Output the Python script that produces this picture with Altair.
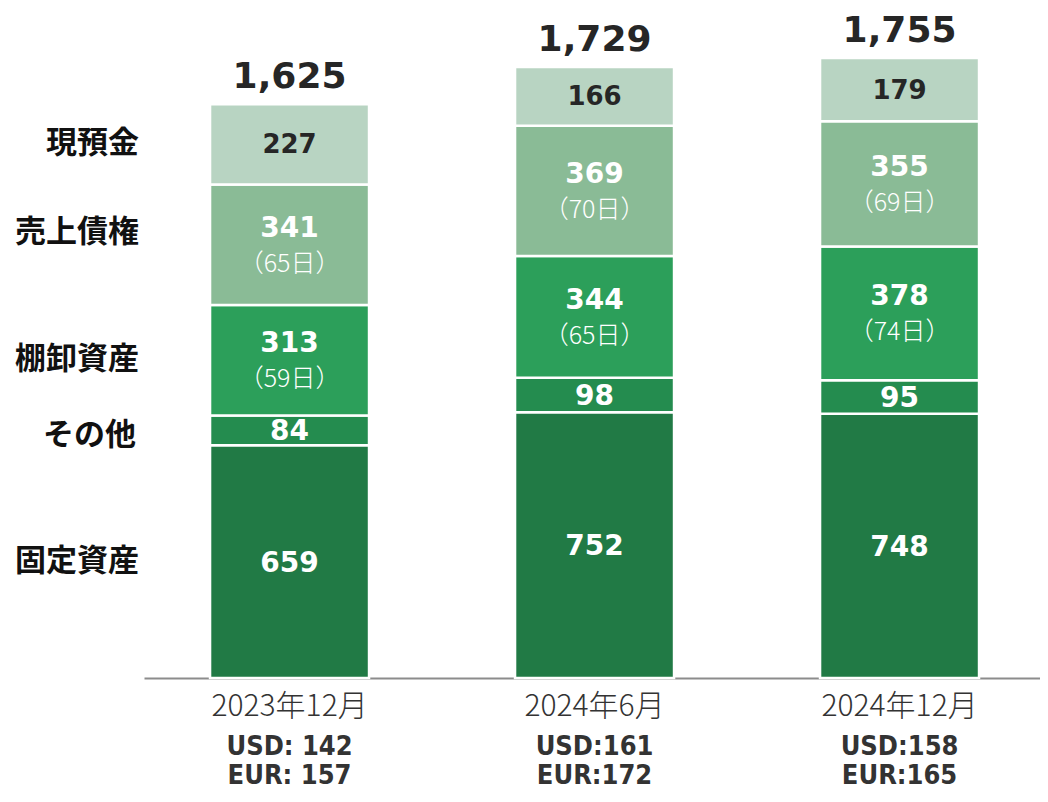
import altair as alt
import pandas as pd

periods = ["2023年12月", "2024年6月", "2024年12月"]
categories = ["固定資産", "その他", "棚卸資産", "売上債権", "現預金"]  # bottom -> top
fixed_assets = [659, 752, 748]
other = [84, 98, 95]
inventory = [313, 344, 378]
receivables = [341, 369, 355]
cash = [227, 166, 179]
totals = [1625, 1729, 1755]
days_receivables = ["（65日）", "（70日）", "（69日）"]
days_inventory = ["（59日）", "（65日）", "（74日）"]
usd_rates = ["USD: 142", "USD:161", "USD:158"]
eur_rates = ["EUR: 157", "EUR:172", "EUR:165"]

colors = ["#217a45", "#248c4f", "#2c9f5a", "#8abb96", "#b8d4c2"]

series = [fixed_assets, other, inventory, receivables, cash]
rows = []
for i, p in enumerate(periods):
    base = 0
    for c, vals in zip(categories, series):
        v = vals[i]
        day = ""
        if c == "売上債権":
            day = days_receivables[i]
        elif c == "棚卸資産":
            day = days_inventory[i]
        rows.append({"period": p, "cat": c, "value": v, "y0": base, "y1": base + v,
                     "mid": base + v / 2, "day": day, "hasday": day != ""})
        base += v
df = pd.DataFrame(rows)
tot_df = pd.DataFrame({"period": periods, "total": totals,
                       "total_label": [f"{t:,}" for t in totals],
                       "usd": usd_rates, "eur": eur_rates})

NUMFONT = "DejaVu Sans"
JPFONT = "Noto Sans CJK JP"
CONDFONT = "DejaVu Sans Condensed"

x_enc = alt.X("period:N", sort=periods,
              scale=alt.Scale(paddingInner=0.4787, paddingOuter=0.2082, align=0.52),
              axis=alt.Axis(title=None, labelAngle=0, ticks=False, domainColor="#8c8c8c",
                            domainWidth=2, labelFont=JPFONT, labelFontSize=30,
                            labelFontWeight=300, labelColor="#333333", labelPadding=13,
                            grid=False))
x_plain = alt.X("period:N", sort=periods)
y_scale = alt.Scale(domain=[0, 1800])

base = alt.Chart(df)

bars = base.mark_bar(stroke="white", strokeWidth=2.5).encode(
    x=x_enc,
    y=alt.Y("y0:Q", scale=y_scale, axis=None),
    y2="y1:Q",
    color=alt.Color("cat:N", scale=alt.Scale(domain=categories, range=colors), legend=None),
)

cash_txt = base.transform_filter(alt.datum.cat == "現預金").mark_text(
    font=NUMFONT, fontWeight="bold", fontSize=26, color="#262626", dy=1
).encode(x=x_plain, y=alt.Y("mid:Q", scale=y_scale), text="value:Q")

plain_txt = base.transform_filter(
    "datum.cat == '固定資産' || datum.cat == 'その他'"
).mark_text(font=NUMFONT, fontWeight="bold", fontSize=28, color="white", dy=2).encode(
    x=x_plain, y=alt.Y("mid:Q", scale=y_scale), text="value:Q")

day_val_txt = base.transform_filter(alt.datum.hasday).mark_text(
    font=NUMFONT, fontWeight="bold", fontSize=28, color="white", dy=-16
).encode(x=x_plain, y=alt.Y("mid:Q", scale=y_scale), text="value:Q")

day_txt = base.transform_filter(alt.datum.hasday).mark_text(
    font=JPFONT, fontWeight=300, fontSize=25, color="white", dy=19
).encode(x=x_plain, y=alt.Y("mid:Q", scale=y_scale), text="day:N")

first = base.transform_filter(alt.datum.period == periods[0])
cat_common = dict(font=JPFONT, fontWeight="bold", fontSize=31, color="#111111", align="right")
cat_txt = first.transform_filter(
    "datum.cat != '売上債権' && datum.cat != 'その他'"
).mark_text(**cat_common).encode(x=alt.value(-5), y=alt.Y("mid:Q", scale=y_scale), text="cat:N")
cat_txt_up = first.transform_filter(alt.datum.cat == "売上債権").mark_text(
    dy=-12, **cat_common).encode(x=alt.value(-5), y=alt.Y("mid:Q", scale=y_scale), text="cat:N")
cat_txt_down = first.transform_filter(alt.datum.cat == "その他").mark_text(
    dy=6, **cat_common).encode(x=alt.value(-8), y=alt.Y("mid:Q", scale=y_scale), text="cat:N")

tot = alt.Chart(tot_df)
total_txt = tot.mark_text(font=NUMFONT, fontWeight="bold", fontSize=36, color="#262626",
                          baseline="alphabetic", dy=-16).encode(
    x=x_plain, y=alt.Y("total:Q", scale=y_scale), text="total_label:N")

usd_txt = tot.mark_text(font=CONDFONT, fontWeight="bold", fontSize=27,
                        color="#333333", baseline="middle").encode(
    x=x_plain, y=alt.value(705), text="usd:N")
eur_txt = tot.mark_text(font=CONDFONT, fontWeight="bold", fontSize=27,
                        color="#333333", baseline="middle").encode(
    x=x_plain, y=alt.value(734), text="eur:N")

chart = alt.layer(bars, cash_txt, plain_txt, day_val_txt, day_txt, cat_txt, cat_txt_up,
                  cat_txt_down, total_txt, usd_txt, eur_txt).properties(
    width=896, height=636,
    padding={"left": 136, "top": 34, "right": 0, "bottom": 116},
    autosize=alt.AutoSizeParams(type="none"),
).configure_view(stroke=None)

chart.save("out.html", embed_options={"renderer": "svg", "actions": False})
